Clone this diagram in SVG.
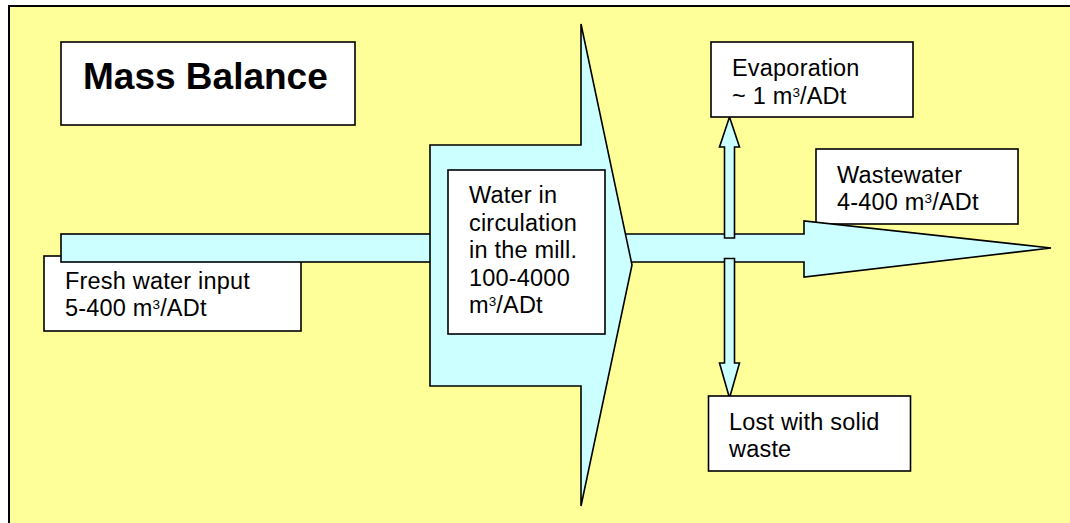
<svg xmlns="http://www.w3.org/2000/svg" width="1070" height="523" viewBox="0 0 1070 523">
<style>
.bg{fill:#FFFF99;stroke:#000;stroke-width:2}
.box{fill:#FFFFFF;stroke:#000;stroke-width:1.6}
.flow{fill:#CCFFFF;stroke:#000;stroke-width:1.6;stroke-linejoin:miter}
.t{font-family:"Liberation Sans",Arial,sans-serif;font-size:23.5px;letter-spacing:0.2px;fill:#000}
.title{font-family:"Liberation Sans",Arial,sans-serif;font-size:37px;font-weight:bold;fill:#000}
.sup{font-size:13.5px;letter-spacing:0}
</style>
<rect class="bg" x="9" y="6" width="1075" height="530"/>
<g id="title">
<rect class="box" x="61" y="42" width="294" height="83"/>
<text class="title" x="83" y="89">Mass Balance</text>
</g>
<g id="fresh-water">
<rect class="box" x="44" y="256" width="257" height="75"/>
<text class="t" x="65" y="289">Fresh water input</text>
<text class="t" x="65" y="316">5-400 m<tspan class="sup" dy="-7">3</tspan><tspan dy="7">/ADt</tspan></text>
</g>
<g id="wastewater">
<rect class="box" x="816" y="149" width="202" height="75"/>
<text class="t" x="837" y="183">Wastewater</text>
<text class="t" x="837" y="210">4-400 m<tspan class="sup" dy="-7">3</tspan><tspan dy="7">/ADt</tspan></text>
</g>
<g id="connectors">
<rect class="flow" x="61" y="234" width="380" height="28"/>
<polygon class="flow" points="610,234 804,234 804,221 1051,248 804,277 804,262 610,262"/>
<polygon class="flow" points="724.5,238 724.5,147 719.5,147 729.5,117 739.5,147 734.5,147 734.5,238"/>
<polygon class="flow" points="724.5,258.5 734.5,258.5 734.5,363 739.5,363 729.5,398 719.5,363 724.5,363"/>
</g>
<g id="mill">
<polygon class="flow" points="430,145 581,145 581,24 632,265 581,506 581,386 430,386"/>
<rect class="box" x="448" y="170" width="157" height="164"/>
<text class="t" x="469" y="203">Water in</text>
<text class="t" x="469" y="230.5">circulation</text>
<text class="t" x="469" y="258">in the mill.</text>
<text class="t" x="469" y="286">100-4000</text>
<text class="t" x="469" y="313">m<tspan class="sup" dy="-7">3</tspan><tspan dy="7">/ADt</tspan></text>
</g>
<g id="evaporation">
<rect class="box" x="711" y="42" width="202" height="75"/>
<text class="t" x="732" y="76">Evaporation</text>
<text class="t" x="732" y="104">~ 1 m<tspan class="sup" dy="-7">3</tspan><tspan dy="7">/ADt</tspan></text>
</g>
<g id="solid-waste">
<rect class="box" x="708.5" y="396" width="202" height="75"/>
<text class="t" x="729" y="430">Lost with solid</text>
<text class="t" x="729" y="457">waste</text>
</g>
</svg>
